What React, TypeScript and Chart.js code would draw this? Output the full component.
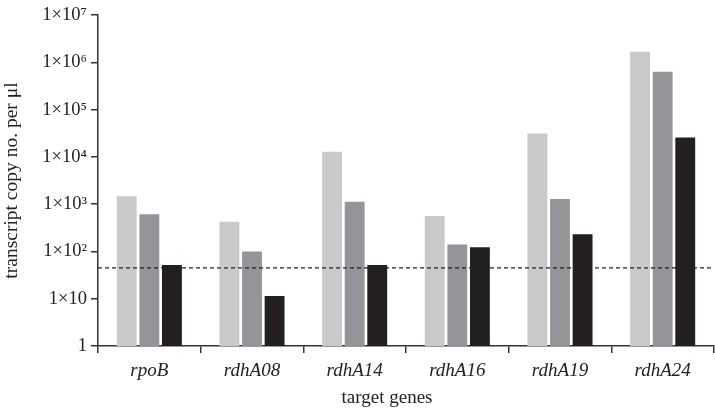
import React, { useEffect, useRef } from "react";
import { Chart, registerables } from "chart.js";

Chart.register(...registerables);

const categories = ["rpoB", "rdhA08", "rdhA14", "rdhA16", "rdhA19", "rdhA24"];
const seriesLight = [1480, 425, 12800, 560, 31400, 1670000];
const seriesMid = [610, 100, 1125, 141, 1280, 630000];
const seriesDark = [52, 11.4, 52, 122, 230, 25900];
const thresholdValue = 45;
const yTickValues = [1, 10, 100, 1000, 10000, 100000, 1000000, 10000000];
const yTickLabels = ["1", "1×10", "1×10²", "1×10³", "1×10⁴", "1×10⁵", "1×10⁶", "1×10⁷"];

const AXIS = "#333333";
const FONT = "'Liberation Serif', 'DejaVu Serif', serif";

const thresholdPlugin = {
  id: "threshold",
  afterDatasetsDraw(chart: any) {
    const { ctx, chartArea, scales } = chart;
    const y = scales.y.getPixelForValue(thresholdValue);
    ctx.save();
    ctx.beginPath();
    ctx.setLineDash([4, 3]);
    ctx.strokeStyle = "#222222";
    ctx.lineWidth = 1.3;
    ctx.moveTo(chartArea.left, y);
    ctx.lineTo(chartArea.right, y);
    ctx.stroke();
    ctx.restore();
  },
};

export default function App() {
  const ref = useRef<HTMLCanvasElement | null>(null);

  useEffect(() => {
    document.body.style.margin = "0";
    const canvas = ref.current;
    if (!canvas) return;
    const chart = new Chart(canvas, {
      type: "bar",
      data: {
        labels: categories,
        datasets: [
          { label: "A", data: seriesLight, backgroundColor: "#c8c9cb" },
          { label: "B", data: seriesMid, backgroundColor: "#939598" },
          { label: "C", data: seriesDark, backgroundColor: "#231f20" },
        ],
      },
      options: {
        animation: false,
        responsive: false,
        maintainAspectRatio: false,
        layout: { padding: { top: 15, right: 1, left: 0, bottom: 0 } },
        datasets: { bar: { categoryPercentage: 0.66, barPercentage: 0.88 } },
        plugins: { legend: { display: false }, tooltip: { enabled: false } },
        scales: {
          x: {
            grid: {
              display: true,
              drawOnChartArea: false,
              drawTicks: true,
              tickLength: 7,
              color: AXIS,
              lineWidth: 1.5,
              offset: true,
            },
            border: { display: true, color: AXIS, width: 1.5 },
            ticks: {
              color: "#222",
              padding: 7,
              font: { family: FONT, size: 19, style: "italic" },
              maxRotation: 0,
            },
            title: {
              display: true,
              text: "target genes        ",
              color: "#222",
              font: { family: FONT, size: 19 },
              padding: { top: 2, bottom: 1 },
            },
            afterFit(scale: any) {
              scale.height = 64;
            },
          },
          y: {
            type: "logarithmic",
            min: 1,
            max: 10000000,
            grid: {
              display: true,
              drawOnChartArea: false,
              drawTicks: true,
              tickLength: 7,
              color: AXIS,
              lineWidth: 1.5,
            },
            border: { display: true, color: AXIS, width: 1.5 },
            afterBuildTicks(scale: any) {
              scale.ticks = yTickValues.map((v) => ({ value: v }));
            },
            ticks: {
              color: "#222",
              padding: 4,
              font: { family: FONT, size: 18.5 },
              callback(value: any) {
                const i = yTickValues.indexOf(Number(value));
                return i >= 0 ? yTickLabels[i] : "";
              },
            },
            title: {
              display: true,
              text: "transcript copy no. per μl",
              color: "#222",
              font: { family: FONT, size: 19.5 },
              padding: { top: 0, bottom: 2 },
            },
            afterFit(scale: any) {
              scale.width = 98;
            },
          },
        },
      },
      plugins: [thresholdPlugin],
    });
    return () => chart.destroy();
  }, []);

  return (
    <div style={{ width: 715, height: 410, background: "#fff" }}>
      <canvas ref={ref} width={715} height={410} style={{ display: "block" }} />
    </div>
  );
}
